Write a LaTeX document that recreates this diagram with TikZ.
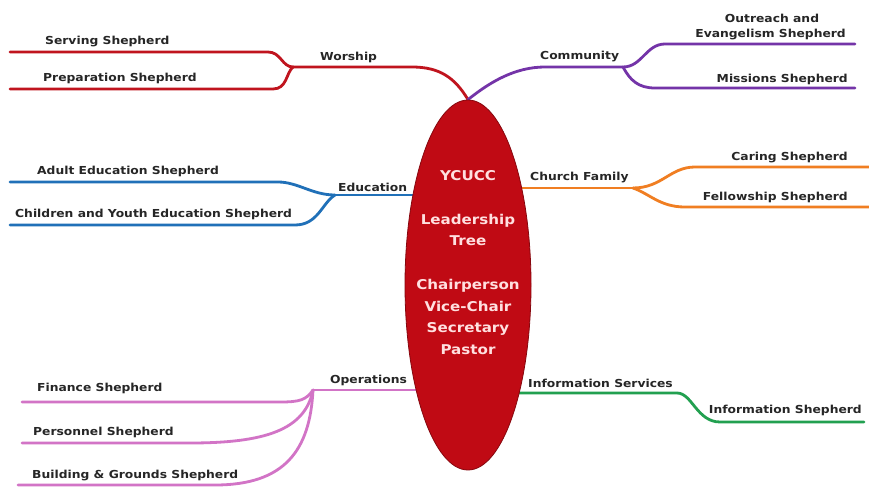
\documentclass[tikz,border=0pt]{standalone}
\usepackage{fontspec}
\setmainfont{DejaVu Sans}[FakeStretch=1.12]
\usetikzlibrary{shapes.geometric}
\definecolor{cRed}{HTML}{C0141E}
\definecolor{cPurple}{HTML}{7434A8}
\definecolor{cBlue}{HTML}{2070B8}
\definecolor{cOrange}{HTML}{F07E22}
\definecolor{cGreen}{HTML}{22A050}
\definecolor{cPink}{HTML}{D274C6}
\definecolor{cEll}{HTML}{C00A14}
\definecolor{cEllText}{HTML}{FFE0E0}
\tikzset{
  lbl/.style={inner sep=0pt, font=\bfseries\fontsize{11}{13}\selectfont, text=black!85},
  branch/.style={line width=2.8pt, line cap=round},
  hub/.style={ellipse, fill=cEll, draw=cEll!70!black, line width=0.8pt,
    minimum width=126pt, minimum height=370pt, inner sep=0pt},
  hubtext/.style={text=cEllText, align=center, inner sep=0pt}
}
\begin{document}
\begin{tikzpicture}[x=1pt,y=-1pt]
\useasboundingbox (0,0) rectangle (869,489);
\fill[white] (0,0) rectangle (869,489);

% hub outline used for anchors
\path node[hub, fill=none, draw=none] (ctr) at (468,285) {};

% coordinates
\coordinate (wSplit) at (293,67);
\coordinate (wEnd1) at (10,52);
\coordinate (wEnd2) at (10,89);
\coordinate (cSplit) at (623,67);
\coordinate (cEnd1) at (855,44);
\coordinate (cEnd2) at (855,88);
\coordinate (eSplit) at (335,195);
\coordinate (eEnd1) at (10,182);
\coordinate (eEnd2) at (10,225);
\coordinate (fSplit) at (633,188);
\coordinate (fEnd1) at (869,167);
\coordinate (fEnd2) at (869,207);
\coordinate (iBend) at (677,393);
\coordinate (iEnd) at (864,422);
\coordinate (oSplit) at (313,390);
\coordinate (oEnd1) at (22,402);
\coordinate (oEnd2) at (22,443);
\coordinate (oEnd3) at (18,485);

% Worship
\draw[branch, cRed] (ctr.north) .. controls (455,78) and (440,67) .. (412,67) -- (wSplit);
\draw[branch, cRed] (wSplit) .. controls (282,67) and (281,52) .. (268,52) -- (wEnd1);
\draw[branch, cRed] (wSplit) .. controls (286,73) and (287,89) .. (273,89) -- (wEnd2);
% Community
\draw[branch, cPurple] (ctr.north) .. controls (490,82) and (515,67) .. (545,67) -- (cSplit);
\draw[branch, cPurple] (cSplit) .. controls (642,67) and (646,44) .. (665,44) -- (cEnd1);
\draw[branch, cPurple] (cSplit) .. controls (630,80) and (638,88) .. (655,88) -- (cEnd2);
% Education
\draw[branch, cBlue] (ctr.121 |- eSplit) -- (eSplit);
\draw[branch, cBlue] (eSplit) .. controls (312,195) and (298,182) .. (278,182) -- (eEnd1);
\draw[branch, cBlue] (eSplit) .. controls (322,203) and (318,225) .. (295,225) -- (eEnd2);
% Church Family
\draw[branch, cOrange] (ctr.61 |- fSplit) -- (fSplit);
\draw[branch, cOrange] (fSplit) .. controls (662,188) and (670,167) .. (695,167) -- (fEnd1);
\draw[branch, cOrange] (fSplit) .. controls (650,194) and (660,207) .. (685,207) -- (fEnd2);
% Information Services
\draw[branch, cGreen] (ctr.-65 |- iBend) -- (iBend) .. controls (692,393) and (697,422) .. (720,422) -- (iEnd);
% Operations
\draw[branch, cPink] (ctr.244 |- oSplit) -- (oSplit);
\draw[branch, cPink] (oSplit) .. controls (306,400) and (300,402) .. (280,402) -- (oEnd1);
\draw[branch, cPink] (oSplit) .. controls (305,430) and (265,443) .. (190,443) -- (oEnd2);
\draw[branch, cPink] (oSplit) .. controls (310,450) and (285,485) .. (215,485) -- (oEnd3);

% hub drawn on top
\node[hub] (hubdraw) at (468,285) {};
\node[hubtext, font=\bfseries\fontsize{13.5}{16}\selectfont] (t1) at (468,176) {YCUCC};
\node[hubtext, font=\bfseries\fontsize{13.5}{21}\selectfont] (t2) at (468,230) {Leadership\\Tree};
\node[hubtext, font=\bfseries\fontsize{13.5}{21.5}\selectfont] (t3) at (468,317) {Chairperson\\Vice-Chair\\Secretary\\Pastor};

% labels
\node[lbl, anchor=west] (l1) at (45,42) {Serving Shepherd};
\node[lbl, anchor=west] (l2) at (43,78) {Preparation Shepherd};
\node[lbl, anchor=west] (l3) at (320,57) {Worship};
\node[lbl, anchor=west] (l4) at (540,57) {Community};
\node[lbl, anchor=center] (l5) at (772,18) {Outreach and};
\node[lbl, anchor=east] (l6) at (846,35) {Evangelism Shepherd};
\node[lbl, anchor=east] (l7) at (848,79) {Missions Shepherd};
\node[lbl, anchor=west] (l8) at (37,171) {Adult Education Shepherd};
\node[lbl, anchor=west] (l9) at (15,214) {Children and Youth Education Shepherd};
\node[lbl, anchor=west] (l10) at (338,187) {Education};
\node[lbl, anchor=west] (l11) at (530,178) {Church Family};
\node[lbl, anchor=east] (l12) at (848,158) {Caring Shepherd};
\node[lbl, anchor=east] (l13) at (848,197) {Fellowship Shepherd};
\node[lbl, anchor=west] (l14) at (330,380) {Operations};
\node[lbl, anchor=west] (l15) at (528,383) {Information Services};
\node[lbl, anchor=east] (l16) at (862,410) {Information Shepherd};
\node[lbl, anchor=west] (l17) at (37,388) {Finance Shepherd};
\node[lbl, anchor=west] (l18) at (33,432) {Personnel Shepherd};
\node[lbl, anchor=west] (l19) at (32,476) {Building \& Grounds Shepherd};
\end{tikzpicture}
\end{document}
